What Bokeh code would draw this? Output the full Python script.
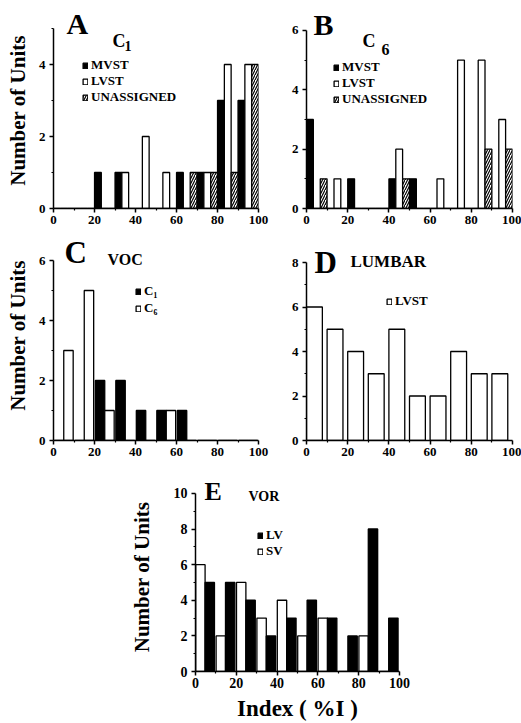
import numpy as np
from bokeh.plotting import figure
from bokeh.models import FixedTicker, Label, Legend, LegendItem, Spacer, Range1d
from bokeh.layouts import row, column
from bokeh.embed import file_html
from bokeh.resources import INLINE

FONT = "Liberation Serif"

# ---------------- data ----------------
BINS = [0, 10, 20, 30, 40, 50, 60, 70, 80, 90]
X_TICKS = [0, 20, 40, 60, 80, 100]
X_MINOR = [10, 30, 50, 70, 90]

A_MVST = [0, 0, 1, 1, 0, 0, 1, 1, 3, 3]
A_LVST = [0, 0, 0, 1, 2, 1, 0, 1, 4, 4]
A_UNASSIGNED = [0, 0, 0, 0, 0, 0, 1, 1, 1, 4]

B_MVST = [3, 0, 1, 0, 1, 1, 0, 0, 0, 0]
B_LVST = [0, 1, 0, 0, 2, 0, 1, 5, 5, 3]
B_UNASSIGNED = [1, 0, 0, 0, 1, 0, 0, 0, 2, 2]

C_C1 = [0, 0, 2, 2, 1, 1, 1, 0, 0, 0]
C_C6 = [3, 5, 1, 0, 0, 1, 0, 0, 0, 0]

D_LVST = [6, 5, 4, 3, 5, 2, 2, 4, 3, 3]

E_LV = [5, 5, 4, 2, 3, 4, 3, 2, 8, 3]
E_SV = [6, 2, 5, 3, 4, 2, 3, 0, 2, 0]

bins = np.array(BINS, dtype=float)
UNITS = "Number of Units"


def make_fig(w, h, left, right, top, bottom, ytop, ymax, yticks, yminor,
             xsize="13px", ysize="13px"):
    p = figure(width=w, height=h, x_range=Range1d(0, 100), y_range=Range1d(0, ytop),
               output_backend="svg", toolbar_location=None, title=None,
               min_border=0, min_border_left=left, min_border_right=right,
               min_border_top=top, min_border_bottom=bottom)
    p.outline_line_color = None
    p.grid.visible = False
    p.background_fill_color = "white"
    p.border_fill_color = "white"
    xa = p.xaxis[0]
    ya = p.yaxis[0]
    xa.ticker = FixedTicker(ticks=X_TICKS, minor_ticks=X_MINOR)
    ya.ticker = FixedTicker(ticks=yticks, minor_ticks=yminor)
    ya.bounds = (0, ymax)
    for ax, sz, so in ((xa, xsize, 3), (ya, ysize, 4)):
        ax.axis_line_width = 1.5
        ax.axis_line_color = "black"
        ax.major_tick_line_width = 1.5
        ax.minor_tick_line_width = 1.2
        ax.major_tick_in = 0
        ax.major_tick_out = 4
        ax.minor_tick_in = 0
        ax.minor_tick_out = 2
        ax.major_label_text_font = FONT
        ax.major_label_text_font_style = "bold"
        ax.major_label_text_font_size = sz
        ax.major_label_text_color = "black"
        ax.major_label_standoff = so
        ax.axis_label_text_font = FONT
        ax.axis_label_text_font_style = "bold"
        ax.axis_label_text_color = "black"
    return p


def geo_label(p, geo, text, px, py, size):
    # py is the wanted baseline (screen px); the renderer places alphabetic
    # text about 0.4 em lower, so compensate.
    fl, fb, sx, sy = geo
    py_adj = py - 0.4 * size
    p.add_layout(Label(x=(px - fl) / sx, y=(fb - py_adj) / sy, text=text,
                       text_font=FONT, text_font_style="bold",
                       text_font_size=f"{size}px",
                       text_color="black", text_align="left", text_baseline="alphabetic"))


def bars(p, x, top, width, kind):
    kw = dict(x=x, top=top, width=width, bottom=0, line_color="black", line_width=1.3)
    if kind == "black":
        return p.vbar(fill_color="black", **kw)
    if kind == "white":
        return p.vbar(fill_color="white", **kw)
    return p.vbar(fill_color="white", hatch_pattern="/", hatch_color="black",
                  hatch_scale=5, hatch_weight=1.2, **kw)


def legend(p, items, vx, vy, row_h, spacing):
    lg = Legend(items=[LegendItem(label=t, renderers=[r]) for t, r in items],
                location=(vx, vy), orientation="vertical", padding=0, margin=0,
                spacing=spacing, glyph_width=6, glyph_height=7, label_height=row_h,
                label_standoff=3, label_text_font=FONT, label_text_font_style="bold",
                label_text_font_size="13px", label_text_color="black",
                label_text_line_height=1.0,
                background_fill_alpha=0, border_line_color=None)
    p.add_layout(lg)


# ---------------- panel A ----------------
pA = make_fig(270, 230, 53, 12, 12, 22, 196 / 36.0, 5, [0, 2, 4], [1, 3, 5])
gA = (53, 208, 2.05, 36.0)
w3 = 3.3
rA1 = bars(pA, bins + 1.67, A_MVST, w3, "black")
rA2 = bars(pA, bins + 5.0, A_LVST, w3, "white")
rA3 = bars(pA, bins + 8.33, A_UNASSIGNED, w3, "hatch")
legend(pA, [("MVST", rA1), ("LVST", rA2), ("UNASSIGNED", rA3)], 29, 103, 14, -3)
geo_label(pA, gA, "A", 66, 35, 30)
geo_label(pA, gA, "C", 112, 48, 18)
geo_label(pA, gA, "1", 124, 51, 14)
pA.yaxis[0].axis_label = UNITS
pA.yaxis[0].axis_label_text_font_size = "21px"
pA.yaxis[0].axis_label_standoff = 6

# ---------------- panel B ----------------
pB = make_fig(251, 230, 36, 9, 12, 22, 196 / 29.67, 6, [0, 2, 4, 6], [1, 3, 5])
gB = (306, 208, 2.06, 29.67)
rB1 = bars(pB, bins + 1.67, B_MVST, w3, "black")
rB2 = bars(pB, bins + 5.0, B_LVST, w3, "white")
rB3 = bars(pB, bins + 8.33, B_UNASSIGNED, w3, "hatch")
legend(pB, [("MVST", rB1), ("LVST", rB2), ("UNASSIGNED", rB3)], 27, 101, 14, -3)
geo_label(pB, gB, "B", 313, 36, 30)
geo_label(pB, gB, "C", 362, 48, 18)
geo_label(pB, gB, "6", 381, 55, 16)

# ---------------- panel C ----------------
pC = make_fig(270, 232, 53, 12, 0, 22, 210 / 30.0, 6, [0, 2, 4, 6], [1, 3, 5])
gC = (53, 440, 2.05, 30.0)
w2 = 4.6
rC1 = bars(pC, bins + 2.7, C_C1, w2, "black")
rC2 = bars(pC, bins + 7.3, C_C6, w2, "white")
legend(pC, [("C\u2081", rC1), ("C\u2086", rC2)], 82, 123.5, 17, 0)
geo_label(pC, gC, "C", 64, 264, 31)
geo_label(pC, gC, "VOC", 107, 265, 16)
pC.yaxis[0].axis_label = UNITS
pC.yaxis[0].axis_label_text_font_size = "21px"
pC.yaxis[0].axis_label_standoff = 6

# ---------------- panel D ----------------
pD = make_fig(251, 232, 36, 9, 0, 22, 210 / 22.25, 8, [0, 2, 4, 6, 8], [1, 3, 5, 7])
gD = (306, 440, 2.06, 22.25)
rD1 = bars(pD, bins + 3.85, D_LVST, 7.7, "white")
legend(pD, [("LVST", rD1)], 80, 131, 14, 0)
geo_label(pD, gD, "D", 314, 274, 31)
geo_label(pD, gD, "LUMBAR", 350, 268, 17)

# ---------------- panel E ----------------
pE = make_fig(294, 261, 70, 20, 20, 50, 191 / 18.0, 10, [0, 2, 4, 6, 8, 10], [1, 3, 5, 7, 9],
              xsize="14px", ysize="14px")
gE = (195, 673, 2.04, 18.0)
rE_sv = bars(pE, bins + 2.4, E_SV, w2, "white")
rE_lv = bars(pE, bins + 7.0, E_LV, w2, "black")
legend(pE, [("LV", rE_lv), ("SV", rE_sv)], 62, 112, 14, -3)
geo_label(pE, gE, "E", 204, 502, 26)
geo_label(pE, gE, "VOR", 248, 502, 14)
pE.yaxis[0].axis_label = UNITS
pE.yaxis[0].axis_label_text_font_size = "21px"
pE.yaxis[0].axis_label_standoff = 17
pE.xaxis[0].axis_label = "Index ( %I )"
pE.xaxis[0].axis_label_text_font_size = "23px"
pE.xaxis[0].axis_label_standoff = 5
pE.xaxis[0].major_label_standoff = 2

layout = column(
    row(pA, pB),
    row(pC, pD),
    row(Spacer(width=125, height=261), pE),
)

open("out.html", "w").write(file_html(layout, INLINE))
